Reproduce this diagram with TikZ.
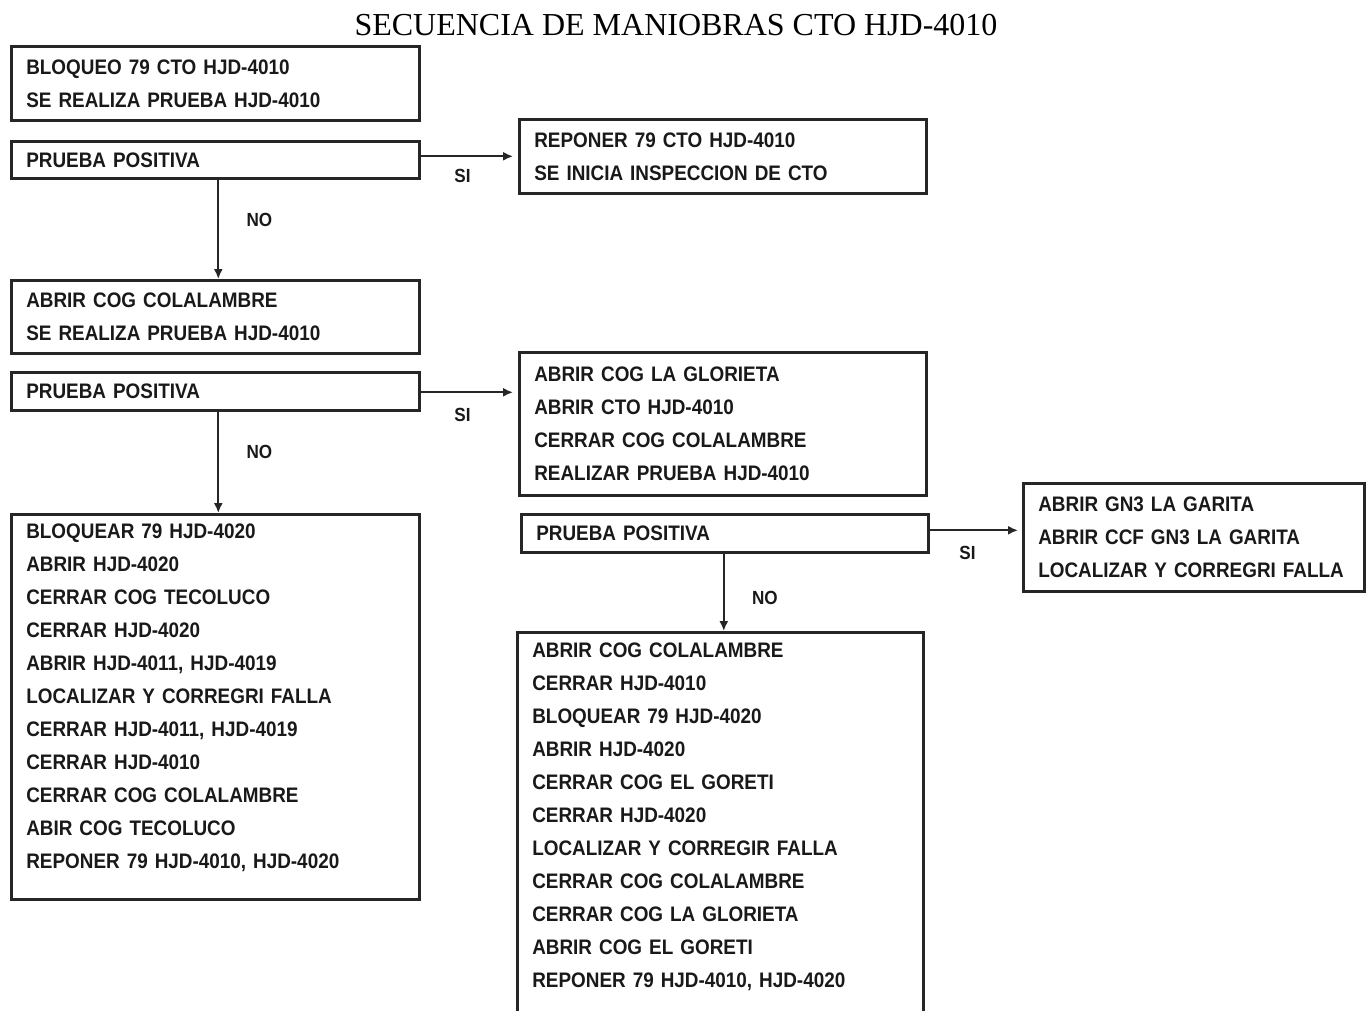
\documentclass[tikz,border=0pt]{standalone}
\usepackage{fontspec}
\setmainfont{Liberation Sans}
\newfontfamily\cajafont{Liberation Sans}[FakeStretch=0.9]
\newfontfamily\titulofont{Liberation Serif}
\usetikzlibrary{arrows.meta,positioning}

\tikzset{
  caja/.style={draw=black!85, line width=2.6pt, anchor=north west, align=left,
    inner xsep=15pt, inner ysep=0pt, text=black!90,
    font=\cajafont\bfseries\fontsize{21}{33}\selectfont},
  flecha/.style={-{Latex[length=10pt,width=9pt]}, line width=1.8pt, draw=black!85},
  etiq/.style={font=\cajafont\bfseries\fontsize{19}{19}\selectfont, text=black!90},
}

\begin{document}
\begin{tikzpicture}[x=1pt,y=-1pt]
    \useasboundingbox (0,0) rectangle (1367,1011);
    \clip (0,0) rectangle (1367,1011);

    % Titulo
    \node[font=\titulofont\fontsize{32}{32}\selectfont] (titulo) at (676,25) {SECUENCIA DE MANIOBRAS CTO HJD-4010};

    % Primera prueba
    \node[caja, text width=378pt, minimum height=74pt] (b1) at (10,45) {BLOQUEO 79 CTO HJD-4010\\SE REALIZA PRUEBA HJD-4010};
    \node[caja, text width=378pt, minimum height=37pt] (b2) at (10,140) {PRUEBA POSITIVA};
    \node[caja, text width=377pt, minimum height=74pt] (b3) at (518,118) {REPONER 79 CTO HJD-4010\\SE INICIA INSPECCION DE CTO};

    % Segunda prueba
    \node[caja, text width=378pt, minimum height=73pt] (b4) at (10,279) {ABRIR COG COLALAMBRE\\SE REALIZA PRUEBA HJD-4010};
    \node[caja, text width=378pt, minimum height=38pt] (b5) at (10,371) {PRUEBA POSITIVA};
    \node[caja, text width=377pt, minimum height=143pt] (b6) at (518,351) {ABRIR COG LA GLORIETA\\ABRIR CTO HJD-4010\\CERRAR COG COLALAMBRE\\REALIZAR PRUEBA HJD-4010};

    % Secuencia izquierda
    \node[caja, text width=378pt, minimum height=385pt] (b7) at (10,513) {BLOQUEAR 79 HJD-4020\\ABRIR HJD-4020\\CERRAR COG TECOLUCO\\CERRAR HJD-4020\\ABRIR HJD-4011, HJD-4019\\LOCALIZAR Y CORREGRI FALLA\\CERRAR HJD-4011, HJD-4019\\CERRAR HJD-4010\\CERRAR COG COLALAMBRE\\ABIR COG TECOLUCO\\REPONER 79 HJD-4010, HJD-4020\\[-12pt]\mbox{}};

    % Tercera prueba
    \node[caja, text width=377pt, minimum height=38pt] (b8) at (520,513) {PRUEBA POSITIVA};
    \node[caja, text width=311pt, minimum height=108pt] (b9) at (1022,482) {ABRIR GN3 LA GARITA\\ABRIR CCF GN3 LA GARITA\\LOCALIZAR Y CORREGRI FALLA};
    \node[caja, text width=376pt, minimum height=420pt] (b10) at (516,631) {ABRIR COG COLALAMBRE\\CERRAR HJD-4010\\BLOQUEAR 79 HJD-4020\\ABRIR HJD-4020\\CERRAR COG EL GORETI\\CERRAR HJD-4020\\LOCALIZAR Y CORREGIR FALLA\\CERRAR COG COLALAMBRE\\CERRAR COG LA GLORIETA\\ABRIR COG EL GORETI\\REPONER 79 HJD-4010, HJD-4020\\[22pt]\mbox{}};

    % Flechas
    \draw[flecha, shorten >=5pt] (b3.west -| b2.east) -- (b3.west) node[etiq, pos=0.43, below=9pt] (si1) {SI};
    \draw[flecha] ([xshift=3pt]b2.south) -- ([xshift=3pt]b4.north) node[etiq, pos=0.41, right=24pt] (no1) {NO};
    \draw[flecha, shorten >=5pt] ([yshift=-1pt]b5.east) -- ([yshift=-1pt]b5.east -| b6.west) node[etiq, pos=0.43, below=12pt] (si2) {SI};
    \draw[flecha] ([xshift=3pt]b5.south) -- ([xshift=3pt]b7.north) node[etiq, pos=0.40, right=24pt] (no2) {NO};
    \draw[flecha, shorten >=4pt] ([yshift=3pt]b8.east) -- ([yshift=3pt]b8.east -| b9.west) node[etiq, pos=0.41, below=12pt] (si3) {SI};
    \draw[flecha] ([xshift=-1pt]b8.south) -- ([xshift=-1pt]b8.south |- b10.north) node[etiq, pos=0.575, right=24pt] (no3) {NO};
\end{tikzpicture}
\end{document}
